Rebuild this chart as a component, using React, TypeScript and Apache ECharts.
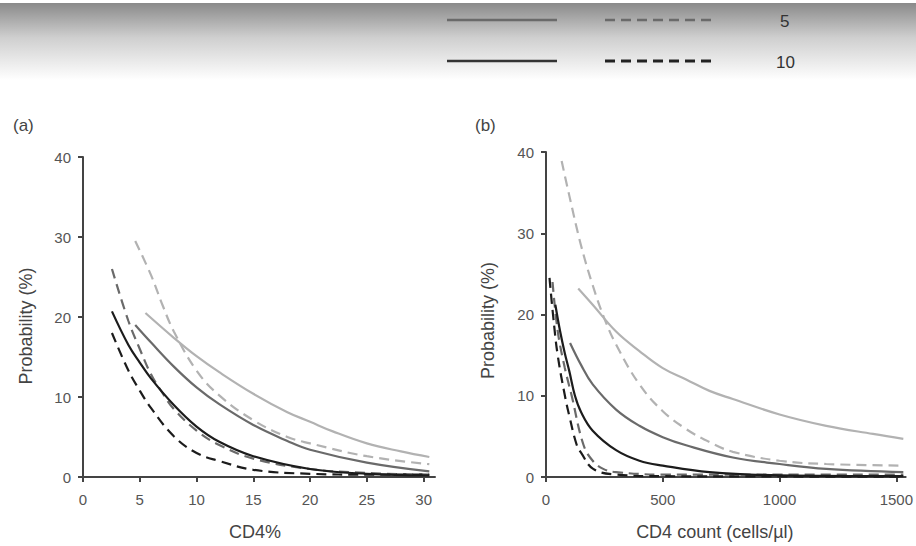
import React, { useEffect, useRef } from "react";
import * as echarts from "echarts";

// ---- Data: panel (a) CD4% ----
const cd4PctTicks = [0, 5, 10, 15, 20, 25, 30];
const probTicks = [0, 10, 20, 30, 40];
const aLightSolid = [[5.5, 20.5], [8, 17.4], [10, 15.1], [12, 13.1], [15, 10.4], [18, 8.1], [20, 6.9], [22, 5.7], [25, 4.2], [28, 3.2], [30.5, 2.5]];
const aLightDash = [[4.6, 29.5], [6, 25.2], [7, 21.5], [8, 18.2], [10, 13.3], [12, 10.2], [15, 7.1], [18, 5.0], [20, 4.2], [25, 2.6], [30.5, 1.6]];
const aMidSolid = [[4.6, 19], [6, 16.8], [8, 13.8], [10, 11.2], [12, 9.1], [15, 6.5], [18, 4.5], [20, 3.4], [25, 1.8], [30.5, 0.7]];
const aMidDash = [[2.55, 26], [4, 19.5], [5, 16], [6, 12.8], [7, 10.5], [8, 8.5], [10, 5.8], [12, 4.0], [15, 2.3], [20, 1.0], [25, 0.5], [30.5, 0.3]];
const aBlackSolid = [[2.55, 20.7], [4, 16.5], [5, 14.3], [6, 12.3], [8, 9.0], [10, 6.3], [12, 4.4], [15, 2.6], [20, 1.0], [25, 0.4], [30.5, 0.2]];
const aBlackDash = [[2.55, 18], [4, 13.3], [5, 10.8], [6, 8.6], [8, 5.1], [10, 3.0], [12, 2.0], [15, 0.9], [20, 0.4], [25, 0.3], [30.5, 0.3]];

// ---- Data: panel (b) CD4 count ----
const cd4CountTicks = [0, 500, 1000, 1500];
const bLightSolid = [[138, 23.2], [200, 21.2], [300, 17.9], [400, 15.5], [500, 13.4], [600, 12.0], [700, 10.6], [800, 9.6], [1000, 7.7], [1200, 6.3], [1400, 5.3], [1530, 4.7]];
const bLightDash = [[67, 38.9], [100, 34.6], [150, 28.5], [200, 23.6], [250, 19.5], [300, 16.3], [400, 11.4], [500, 8.1], [600, 5.9], [700, 4.3], [800, 3.1], [1000, 2.0], [1200, 1.6], [1530, 1.4]];
const bMidSolid = [[103, 16.5], [150, 13.8], [200, 11.4], [300, 8.3], [400, 6.3], [500, 4.9], [600, 3.9], [800, 2.4], [1000, 1.6], [1200, 1.0], [1530, 0.6]];
const bMidDash = [[28, 24], [50, 18], [80, 13.5], [110, 10], [160, 4], [200, 2], [245, 1], [300, 0.6], [500, 0.3], [1000, 0.3], [1530, 0.3]];
const bBlackSolid = [[40, 21.2], [60, 18], [80, 15.3], [100, 13], [124, 10], [150, 8], [200, 5.7], [300, 3.3], [400, 2.0], [500, 1.4], [700, 0.6], [1000, 0.2], [1530, 0.1]];
const bBlackDash = [[15, 24.5], [30, 20], [50, 15], [81, 10], [100, 7.5], [131, 4], [150, 3], [202, 1], [300, 0.3], [500, 0.1], [1530, 0.05]];

const legendLabels = ["5", "10"];

const FONT = "Liberation Sans, Arial, Helvetica, sans-serif";
const LIGHT = "#b2b2b2";
const MID = "#6a6a6a";
const DARK = "#1c1c1c";
const AXIS = "#444";

function makeSeries(name: string, data: number[][], color: string, dashed: boolean, idx: number) {
  return {
    name,
    type: "line",
    xAxisIndex: idx,
    yAxisIndex: idx,
    data,
    smooth: 0.4,
    showSymbol: false,
    symbol: "none",
    lineStyle: { color, width: 2.2, type: dashed ? [10, 6] : "solid" },
    z: 3,
  };
}

const tickStyle = { show: true, length: 5, lineStyle: { color: AXIS, width: 2 } };
const labelStyle = { color: "#555", fontSize: 15, fontFamily: FONT, formatter: (v: number) => String(v) };
const nameStyle = { color: "#444", fontSize: 18, fontFamily: FONT };
const lineStyleAxis = { show: true, onZero: false, lineStyle: { color: AXIS, width: 2 } };

export default function App() {
  const ref = useRef<HTMLDivElement>(null);
  useEffect(() => {
    document.body.style.margin = "0";
    const chart = echarts.init(ref.current!, null, { renderer: "svg" });
    const option = {
      animation: false,
      backgroundColor: "#fff",
      grid: [
        { left: 83, top: 157, width: 352, height: 324 },
        { left: 546, top: 152, width: 360, height: 328 },
      ],
      xAxis: [
        {
          type: "value",
          gridIndex: 0,
          min: 0,
          max: 31,
          axisLine: lineStyleAxis,
          splitLine: { show: false },
          axisTick: { ...tickStyle, customValues: cd4PctTicks },
          axisLabel: { ...labelStyle, customValues: cd4PctTicks, margin: 15 },
          name: "CD4%",
          nameLocation: "middle",
          nameGap: 46,
          nameTextStyle: { ...nameStyle, padding: [0, 8, 0, 0] },
        },
        {
          type: "value",
          gridIndex: 1,
          min: 0,
          max: 1540,
          axisLine: lineStyleAxis,
          splitLine: { show: false },
          axisTick: { ...tickStyle, customValues: cd4CountTicks },
          axisLabel: { ...labelStyle, customValues: cd4CountTicks, margin: 15 },
          name: "CD4 count (cells/\u00b5l)",
          nameLocation: "middle",
          nameGap: 46,
          nameTextStyle: { ...nameStyle, padding: [0, 22, 0, 0] },
        },
      ],
      yAxis: [
        {
          type: "value",
          gridIndex: 0,
          min: 0,
          max: 40,
          interval: 10,
          axisLine: lineStyleAxis,
          splitLine: { show: false },
          axisTick: { ...tickStyle, customValues: probTicks },
          axisLabel: { ...labelStyle, customValues: probTicks, margin: 12 },
          name: "Probability (%)",
          nameLocation: "middle",
          nameGap: 48,
          nameTextStyle: { ...nameStyle, padding: [0, 18, 0, 0] },
        },
        {
          type: "value",
          gridIndex: 1,
          min: 0,
          max: 40,
          interval: 10,
          axisLine: lineStyleAxis,
          splitLine: { show: false },
          axisTick: { ...tickStyle, customValues: probTicks },
          axisLabel: { ...labelStyle, customValues: probTicks, margin: 12 },
          name: "Probability (%)",
          nameLocation: "middle",
          nameGap: 49,
          nameTextStyle: { ...nameStyle, padding: [0, 12, 0, 0] },
        },
      ],
      series: [
        makeSeries("a-light-solid", aLightSolid, LIGHT, false, 0),
        makeSeries("a-light-dash", aLightDash, LIGHT, true, 0),
        makeSeries("a-mid-solid", aMidSolid, MID, false, 0),
        makeSeries("a-mid-dash", aMidDash, MID, true, 0),
        makeSeries("a-black-solid", aBlackSolid, DARK, false, 0),
        makeSeries("a-black-dash", aBlackDash, DARK, true, 0),
        makeSeries("b-light-solid", bLightSolid, LIGHT, false, 1),
        makeSeries("b-light-dash", bLightDash, LIGHT, true, 1),
        makeSeries("b-mid-solid", bMidSolid, MID, false, 1),
        makeSeries("b-mid-dash", bMidDash, MID, true, 1),
        makeSeries("b-black-solid", bBlackSolid, DARK, false, 1),
        makeSeries("b-black-dash", bBlackDash, DARK, true, 1),
      ],
      graphic: [
        {
          type: "rect",
          left: 0,
          top: 3,
          shape: { width: 916, height: 77 },
          z: 0,
          style: {
            fill: new echarts.graphic.LinearGradient(0, 0, 0, 1, [
              { offset: 0, color: "#8a8a8a" },
              { offset: 0.45, color: "#cfcfcf" },
              { offset: 1, color: "#ffffff" },
            ]),
          },
        },
        { type: "line", shape: { x1: 447, y1: 20, x2: 557, y2: 20 }, style: { stroke: MID, lineWidth: 2.5 }, z: 5 },
        { type: "line", shape: { x1: 605, y1: 20, x2: 715, y2: 20 }, style: { stroke: MID, lineWidth: 2.5, lineDash: [10, 6] }, z: 5 },
        { type: "text", x: 780, y: 21, style: { text: legendLabels[0], fill: "#333", font: `17px ${FONT}`, verticalAlign: "middle" }, z: 5 },
        { type: "line", shape: { x1: 447, y1: 61, x2: 557, y2: 61 }, style: { stroke: "#333", lineWidth: 2.5 }, z: 5 },
        { type: "line", shape: { x1: 605, y1: 61, x2: 715, y2: 61 }, style: { stroke: "#222", lineWidth: 3, lineDash: [10, 6] }, z: 5 },
        { type: "text", x: 776, y: 62, style: { text: legendLabels[1], fill: "#333", font: `17px ${FONT}`, verticalAlign: "middle" }, z: 5 },
        { type: "text", x: 13, y: 125, style: { text: "(a)", fill: "#444", font: `17px ${FONT}`, verticalAlign: "middle" }, z: 5 },
        { type: "text", x: 475, y: 125, style: { text: "(b)", fill: "#444", font: `17px ${FONT}`, verticalAlign: "middle" }, z: 5 },
      ],
    };
    chart.setOption(option as any);
    return () => chart.dispose();
  }, []);
  return <div ref={ref} style={{ position: "fixed", left: 0, top: 0, width: 916, height: 546 }} />;
}
